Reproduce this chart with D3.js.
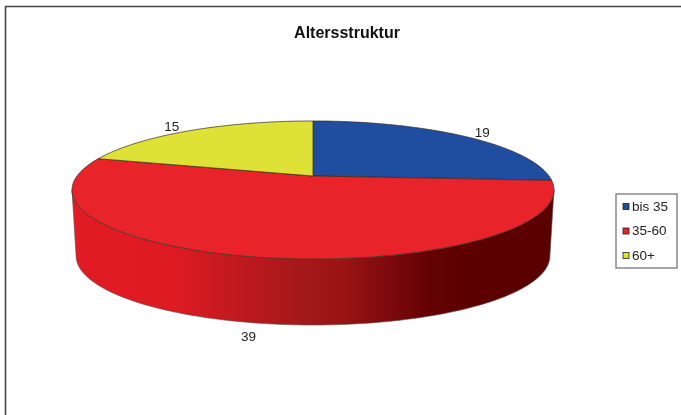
<!DOCTYPE html>
<html><head><meta charset="utf-8">
<script src="https://cdn.jsdelivr.net/npm/d3@7"></script>
<style>html,body{margin:0;padding:0;background:#fff}svg{display:block;filter:blur(0.55px)}text{font-family:"Liberation Sans",Arial,sans-serif}</style>
</head><body><script>
const chartTitle = "Altersstruktur";
const categories = ["bis 35", "35-60", "60+"];
const values = [19, 39, 15];
const colors = ["#1f4ea1", "#e8232a", "#dfe236"];

const W = 681, H = 415;
const svg = d3.select("body").append("svg").attr("width", W).attr("height", H);
svg.append("rect").attr("width", W).attr("height", H).attr("fill", "#fff");

// frame
svg.append("path").attr("d", `M5.5,${H}V6.5H${W}`).attr("fill", "none").attr("stroke", "#444").attr("stroke-width", 1.6);

svg.append("text").attr("x", 347).attr("y", 37.5).attr("text-anchor", "middle")
  .attr("font-size", 16).attr("font-weight", "bold").attr("fill", "#111").text(chartTitle);

// perspective disc
const k = 0.2029;
const xTop = d3.scaleLinear().domain([-1, 1]).range([313 - 236, 313 + 236]);
const yTop = d3.scaleLinear().domain([-1, 1]).range([176 - 66.2, 176 + 66.2]);
const xBot = d3.scaleLinear().domain([-1, 1]).range([313 - 232, 313 + 232]);
const yBot = d3.scaleLinear().domain([-1, 1]).range([242 - 66.2, 242 + 66.2]);
function project(theta, sx, sy) {
  const X = Math.sin(theta), Y = -Math.cos(theta), s = 1 / (1 - k * Y);
  return [sx(X * s), sy(Y * s)];
}
const topPt = t => project(t, xTop, yTop), botPt = t => project(t, xBot, yBot);
const sweep = (a, b) => { const n = 80; return d3.range(n + 1).map(i => a + (b - a) * i / n); };
const line = d3.line();

const arcs = d3.pie().sort(null)(values);

// wall
const grad = svg.append("defs").append("linearGradient").attr("id", "wall")
  .attr("gradientUnits", "userSpaceOnUse").attr("x1", 72).attr("x2", 554).attr("y1", 0).attr("y2", 0);
[[0, "#e21b24"], [0.22, "#dd1a22"], [0.32, "#c51a1f"], [0.48, "#a4181a"], [0.56, "#9b1414"],
 [0.66, "#7d0a0c"], [0.74, "#640203"], [0.82, "#5c0000"], [1, "#5a0000"]]
  .forEach(([o, c]) => grad.append("stop").attr("offset", o).attr("stop-color", c));

const a0 = Math.acos(-k), a1 = 2 * Math.PI - a0;
const wall = sweep(a0, a1).map(topPt).concat(sweep(a1, a0).map(botPt));
svg.append("path").attr("d", line(wall) + "Z").attr("fill", "url(#wall)")
  .attr("stroke", "#555").attr("stroke-width", 0.6);

// top face
svg.selectAll("path.slice").data(arcs).join("path").attr("class", "slice")
  .attr("d", d => line([[xTop(0), yTop(0)]].concat(sweep(d.startAngle, d.endAngle).map(topPt))) + "Z")
  .attr("fill", (d, i) => colors[i]).attr("stroke", "#3a2a20").attr("stroke-width", 0.7).attr("stroke-linejoin", "round");

// value labels
const labelOffsets = [[18, -3], [-14, 80], [-19, -3]];
svg.selectAll("text.val").data(arcs).join("text").attr("class", "val")
  .attr("x", (d, i) => topPt((d.startAngle + d.endAngle) / 2)[0] + labelOffsets[i][0])
  .attr("y", (d, i) => topPt((d.startAngle + d.endAngle) / 2)[1] + labelOffsets[i][1])
  .attr("text-anchor", "middle").attr("dominant-baseline", "middle")
  .attr("font-size", 13.5).attr("fill", "#222").text(d => d.value);

// legend
svg.append("rect").attr("x", 616).attr("y", 194).attr("width", 61).attr("height", 74)
  .attr("fill", "#fff").attr("stroke", "#777").attr("stroke-width", 1.3);
const legendY = d3.scalePoint().domain(categories).range([206.5, 255.5]);
const item = svg.selectAll("g.item").data(categories).join("g").attr("class", "item")
  .attr("transform", d => `translate(0,${legendY(d)})`);
item.append("rect").attr("x", 623).attr("y", -3).attr("width", 6).attr("height", 6)
  .attr("fill", (d, i) => colors[i]).attr("stroke", "#222").attr("stroke-width", 0.8);
item.append("text").attr("x", 632).attr("y", 0.5).attr("dominant-baseline", "middle")
  .attr("font-size", 13.5).attr("fill", "#222").text(d => d);
</script></body></html>
